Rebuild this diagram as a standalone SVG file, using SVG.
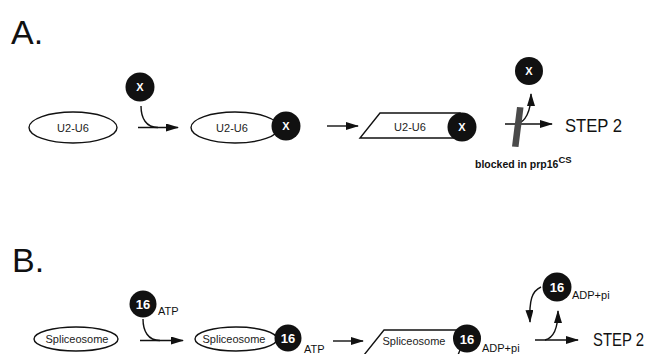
<svg xmlns="http://www.w3.org/2000/svg" width="654" height="354" viewBox="0 0 654 354">
<style>
.ln{fill:none;stroke:#111;stroke-width:1.4}
.sh{fill:#fff;stroke:#111;stroke-width:1.4}
.dot{fill:#111}
.lbl{font-family:"Liberation Sans",Arial,sans-serif;fill:#111}
.in{font-family:"Liberation Sans",Arial,sans-serif;fill:#222;font-size:11px;text-anchor:middle}
.wx{font-family:"Liberation Sans",Arial,sans-serif;fill:#fff;font-weight:bold;text-anchor:middle}
.sub{font-family:"Liberation Sans",Arial,sans-serif;fill:#111;font-size:11px}
.big{font-family:"Liberation Sans",Arial,sans-serif;fill:#111;font-size:34px}
.step{font-family:"Liberation Sans",Arial,sans-serif;fill:#111;font-size:18px}
</style>
<defs>
<marker id="ah" viewBox="0 0 13 8" refX="12" refY="4" markerWidth="13" markerHeight="8" markerUnits="userSpaceOnUse" orient="auto">
<path d="M0,0 L13,4 L0,8 z" fill="#111"/>
</marker>
</defs>
<rect width="654" height="354" fill="#fff"/>

<text class="big" x="11" y="44">A.</text>
<text class="big" x="12" y="272">B.</text>

<g id="connectors">
<path class="ln" d="M141,106 C141,118 146,127.5 158,127.5"/>
<path class="ln" d="M138,127.5 H178" marker-end="url(#ah)"/>
<path class="ln" d="M327,126 H358" marker-end="url(#ah)"/>
<path class="ln" d="M505,124 H552" marker-end="url(#ah)"/>
<path class="ln" d="M517,124 C525,122 531,112 531,94" marker-end="url(#ah)"/>
<path class="ln" d="M143,319 C143,331 148,340.5 160,340.5"/>
<path class="ln" d="M140,340.5 H183" marker-end="url(#ah)"/>
<path class="ln" d="M333,341 H363" marker-end="url(#ah)"/>
<path class="ln" d="M535,340 H578" marker-end="url(#ah)"/>
<path class="ln" d="M545,340 C553,338 558,328 558,311" marker-end="url(#ah)"/>
<path class="ln" d="M541,287 C532,291 529,300 530,322" marker-end="url(#ah)"/>
</g>

<g id="a-u2u6">
<ellipse class="sh" cx="73" cy="127.5" rx="44" ry="15.5"/>
<text class="in" x="73" y="131.5">U2-U6</text>
</g>
<g id="a-x-free">
<circle class="dot" cx="140" cy="87" r="14.5"/>
<text class="wx" x="140" y="91" font-size="11">X</text>
</g>
<g id="a-u2u6-x">
<ellipse class="sh" cx="235" cy="127.5" rx="44" ry="15.5"/>
<text class="in" x="232" y="131.5">U2-U6</text>
<circle class="dot" cx="286" cy="126" r="14.5"/>
<text class="wx" x="286" y="130" font-size="11">X</text>
</g>
<g id="a-u2u6-x-active">
<polygon class="sh" points="380,113 460,113 454,138 360,138"/>
<text class="in" x="410" y="131">U2-U6</text>
<circle class="dot" cx="462" cy="127" r="14.5"/>
<text class="wx" x="462" y="131" font-size="11">X</text>
</g>
<g id="a-block">
<polygon points="517,107 523.5,107.5 518.5,147 512,146.5" fill="#4a4a4a"/>
<text class="lbl" x="475" y="168" font-size="10.5" font-weight="bold">blocked in prp16<tspan font-size="9.5" dy="-5">CS</tspan></text>
</g>
<g id="a-x-released">
<circle class="dot" cx="529" cy="71" r="14"/>
<text class="wx" x="529" y="75" font-size="11">X</text>
</g>
<text class="step" x="565" y="132" textLength="57" lengthAdjust="spacingAndGlyphs">STEP 2</text>

<g id="b-spliceosome">
<ellipse class="sh" cx="76" cy="339" rx="42" ry="12"/>
<text class="in" x="77" y="343" font-size="10.5">Spliceosome</text>
</g>
<g id="b-16-atp">
<circle class="dot" cx="143" cy="304" r="13.5"/>
<text class="wx" x="143" y="309" font-size="13">16</text>
<text class="sub" x="158" y="315">ATP</text>
</g>
<g id="b-spliceosome-16-atp">
<ellipse class="sh" cx="236" cy="339" rx="41" ry="12"/>
<text class="in" x="234" y="343" font-size="10.5">Spliceosome</text>
<circle class="dot" cx="288" cy="338" r="13.5"/>
<text class="wx" x="288" y="343" font-size="13">16</text>
<text class="sub" x="304" y="353" font-size="10.5">ATP</text>
</g>
<g id="b-spliceosome-16-adp">
<polygon class="sh" points="384,330 468,330 458,355 364,355"/>
<text class="in" x="414" y="345" font-size="10.5">Spliceosome</text>
<circle class="dot" cx="467" cy="338.5" r="14"/>
<text class="wx" x="467" y="343.5" font-size="13">16</text>
<text class="sub" x="482" y="352" font-size="10">ADP+pi</text>
</g>
<g id="b-16-adp-released">
<circle class="dot" cx="557" cy="287" r="14.5"/>
<text class="wx" x="557" y="292" font-size="13">16</text>
<text class="sub" x="572" y="299" font-size="10">ADP+pi</text>
</g>
<text class="step" x="593" y="346" textLength="51" lengthAdjust="spacingAndGlyphs">STEP 2</text>
</svg>
